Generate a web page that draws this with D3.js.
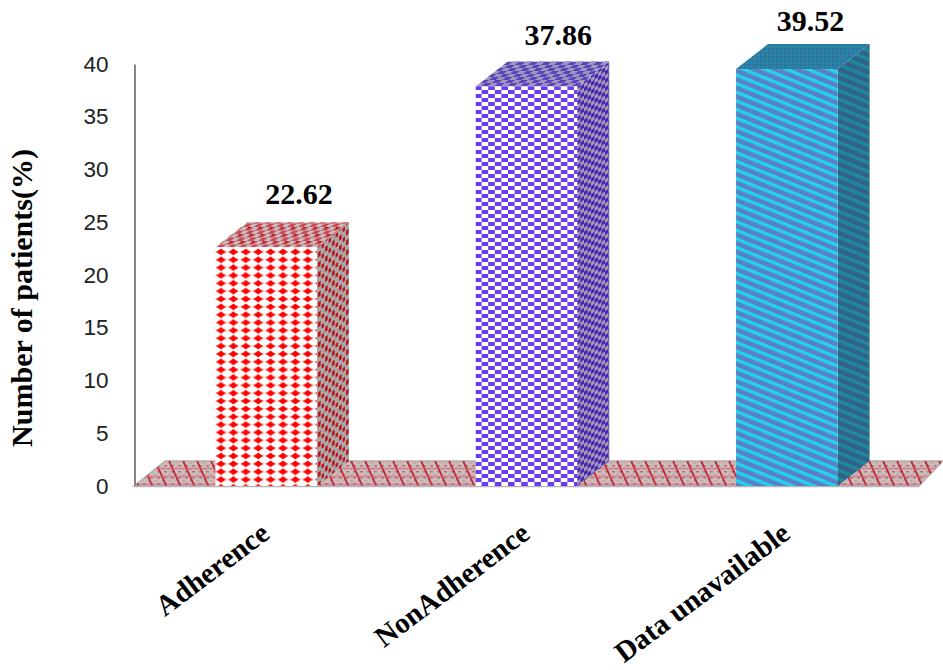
<!DOCTYPE html>
<html><head><meta charset="utf-8">
<script src="https://cdnjs.cloudflare.com/ajax/libs/d3/7.8.5/d3.min.js"></script>
<style>html,body{margin:0;padding:0;background:#fff}svg{display:block}</style>
</head><body><div id="c"></div>
<script>
const categories = ["Adherence", "NonAdherence", "Data unavailable"];
const values = [22.62, 37.86, 39.52];
const valueLabels = ["22.62", "37.86", "39.52"];
const yTicks = [0, 5, 10, 15, 20, 25, 30, 35, 40];
const yTitle = "Number of patients(%)";

const W = 943, H = 670, dx = 32, dy = 25;
const labelLift = [43, 42, 38], labelShift = [18, 19, 27];
const svg = d3.select("#c").append("svg").attr("width", W).attr("height", H);
const defs = svg.append("defs");
const x = d3.scaleBand().domain(categories).range([136, 917]).paddingInner(0.61).paddingOuter(0.305);
const y = d3.scaleLinear().domain([0, 40]).range([486, 64]);

function pat(id, w, h, bg, tf, draw) {
  const p = defs.append("pattern").attr("id", id).attr("patternUnits", "userSpaceOnUse")
    .attr("width", w).attr("height", h);
  if (tf) p.attr("patternTransform", tf);
  p.append("rect").attr("width", w).attr("height", h).attr("fill", bg);
  draw(p);
}
const rect = (p, a, b, w, h, f) => p.append("rect").attr("x", a).attr("y", b).attr("width", w).attr("height", h).attr("fill", f);
const blob = (p, a, b, f) => {
  p.append("ellipse").attr("cx", a).attr("cy", b).attr("rx", 5.6).attr("ry", 1.2).attr("fill", "#ff6060");
  p.append("ellipse").attr("cx", a).attr("cy", b).attr("rx", 3.8).attr("ry", 2).attr("fill", f);
  p.append("ellipse").attr("cx", a).attr("cy", b).attr("rx", 1.8).attr("ry", 3.1).attr("fill", f);
};
const check = (p, w, h, f) => { rect(p, 0, 0, w / 2, h / 2, f); rect(p, w / 2, h / 2, w / 2, h / 2, f); };

// Red
pat("redF", 12.4, 7.85, "#fff", "translate(215,248)", p => blob(p, 6, 3.9, "#ff0000"));
pat("redT", 11, 7, "#c9bcbc", "skewX(-52) translate(0,248)", p => { check(p, 11, 7, "#c84a54"); rect(p, 0, 0, 3, 1.5, "#b8101c"); });
pat("redS", 7, 10, "#aaa8a8", "skewY(-38) translate(317,0)", p => { rect(p, 1, 1, 2.6, 5, "#b80f18"); rect(p, 4.5, 6, 2.5, 4, "#c01018"); });
// Blue
pat("bluF", 13.2, 8, "#fff", "translate(475,86)", p => check(p, 13.2, 8, "#6a3df2"));
pat("bluT", 13, 6, "#9e95c0", "skewX(-52) translate(0,86)", p => check(p, 13, 6, "#5a45b8"));
pat("bluS", 7, 8, "#a09ab8", "skewY(-38) translate(577,0)", p => check(p, 7, 8, "#4a25b0"));
// Cyan
pat("cyaF", 22, 8, "#5a80c6", "rotate(22) translate(736,0)", p => rect(p, 0, 0, 22, 3.4, "#22d3ee"));
pat("cyaT", 4, 4, "#2a7ea6", null, p => { rect(p, 0, 0, 2, 2, "#31729f"); rect(p, 2, 2, 2, 2, "#2a88a8"); });
pat("cyaS", 22, 8, "#31628f", "rotate(22)", p => rect(p, 0, 0, 22, 3.4, "#1f8a96"));
// Floor
pat("floorP", 7, 6, "#c8bcbc", null, p => { rect(p, 0, 0, 3, 1.5, "#d4a0a4"); rect(p, 3, 3, 3, 1.5, "#cc6a72"); });
pat("floorH", 14, 8, "none", "skewX(24)", p => {
  p.select("rect").attr("fill", "none");
  rect(p, 5, 0, 1.8, 8, "#c01a28");
  rect(p, 0, 4, 14, 0.9, "#d0606a");
});

const pts = a => a.map(d => d.join(",")).join(" ");
const x0 = x.range()[0] - 2, x1 = x.range()[1] + 2, yb = y(0);
const floor = [[x0, yb], [x0 + dx - 1, yb - dy], [W, yb - dy], [x1, yb]];
svg.append("polygon").attr("points", pts(floor)).attr("fill", "url(#floorP)").attr("stroke", "#b5b5b5").attr("stroke-width", 1.5);
svg.append("polygon").attr("points", pts(floor)).attr("fill", "url(#floorH)");

// Axis
const axis = d3.axisLeft(y).tickValues(yTicks).tickSize(0).tickPadding(26).tickFormat(d3.format("d"));
const gy = svg.append("g").attr("transform", "translate(134.5,0)").call(axis);
gy.select(".domain").attr("stroke", "#868686").attr("stroke-width", 2);
gy.selectAll("text").attr("font-family", "Liberation Sans").attr("font-size", 22.5).attr("fill", "#222");
svg.append("line").attr("x1", 134).attr("x2", x1).attr("y1", yb + .5).attr("y2", yb + .5).attr("stroke", "#b5b5b5").attr("stroke-width", 1.5);

// Bars
const fills = [["redF", "redT", "redS"], ["bluF", "bluT", "bluS"], ["cyaF", "cyaT", "cyaS"]];
const bars = svg.append("g").selectAll("g").data(categories).join("g");
bars.each(function (c, i) {
  const g = d3.select(this), l = x(c), r = l + x.bandwidth(), t = y(values[i]);
  g.append("polygon").attr("points", pts([[r, t], [r + dx, t - dy], [r + dx, yb - dy], [r, yb]])).attr("fill", `url(#${fills[i][2]})`);
  g.append("polygon").attr("points", pts([[l, t], [l + dx, t - dy], [r + dx, t - dy], [r, t]])).attr("fill", `url(#${fills[i][1]})`);
  g.append("rect").attr("x", l).attr("y", t).attr("width", x.bandwidth()).attr("height", yb - t).attr("fill", `url(#${fills[i][0]})`);
  g.append("text").text(valueLabels[i]).attr("x", r - labelShift[i]).attr("y", t - labelLift[i])
    .attr("text-anchor", "middle").attr("font-family", "Liberation Serif").attr("font-weight", "bold").attr("font-size", 30).attr("fill", "#000");
  g.append("text").text(c).attr("text-anchor", "end")
    .attr("transform", `translate(${l + x.bandwidth() / 2 + 5},${yb + 51}) rotate(-37)`)
    .attr("font-family", "Liberation Serif").attr("font-weight", "bold").attr("font-size", 29).attr("fill", "#000");
});

svg.append("text").text(yTitle).attr("text-anchor", "middle")
  .attr("transform", "translate(32,298) rotate(-90)")
  .attr("font-family", "Liberation Serif").attr("font-weight", "bold").attr("font-size", 30).attr("fill", "#000");
</script></body></html>
